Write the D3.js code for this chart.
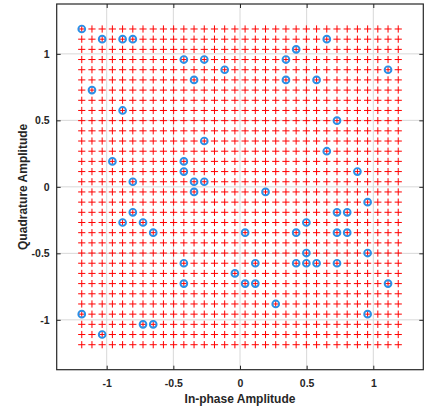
<!DOCTYPE html>
<html>
<head>
<meta charset="utf-8">
<script src="https://cdn.jsdelivr.net/npm/d3@7"></script>
<style>
  html, body { margin: 0; padding: 0; background: #fff; }
  svg { display: block; }
  text { font-family: "Liberation Sans", Arial, Helvetica, sans-serif; font-weight: bold; fill: #262626; }
</style>
</head>
<body>
<svg id="chart" width="427" height="409"></svg>
<script>
// 1024-QAM amplitude levels per rail (odd integers), normalised to unit average power
const levels = [-31, -29, -27, -25, -23, -21, -19, -17, -15, -13, -11, -9, -7, -5, -3, -1,
                1, 3, 5, 7, 9, 11, 13, 15, 17, 19, 21, 23, 25, 27, 29, 31];
const avgPower = 682;

// Received symbols (in level units)
const rxI = [-31, -27, -23, -21, 17, 11, -11, -7, 9, -3, 29, -9, 9, 15, -29, -23, 19, -7, 17, -25,
             -11, -11, 23, -21, -9, -7, -9, 5, 25, -21, 19, 21, -23, -19, 13, -17, 1, 11, 19, 21,
             13, 25, -11, 3, 11, 13, 15, 19, -1, -11, 1, 3, 29, 7, -31, 25, -19, -17, -27];
const rxQ = [31, 29, 29, 29, 29, 27, 25, 25, 25, 23, 23, 21, 21, 21, 19, 15, 13, 9, 7, 5,
             5, 3, 3, 1, 1, 1, -1, -1, -3, -5, -5, -5, -7, -7, -7, -9, -9, -9, -9, -9,
             -13, -13, -15, -15, -15, -15, -15, -15, -17, -19, -19, -19, -19, -23, -25, -25, -27, -27, -29];

const tickValues = [-1, -0.5, 0, 0.5, 1];
const tickLabels = ["-1", "-0.5", "0", "0.5", "1"];
const axisLimit = 1.375;

const norm = Math.sqrt(avgPower);

const svg = d3.select("#chart");
const W = 427, H = 409;
const margin = { left: 56.7, right: 3.7, top: 4, bottom: 39.3 };
const x = d3.scaleLinear().domain([-axisLimit, axisLimit]).range([margin.left, W - margin.right]);
const y = d3.scaleLinear().domain([-axisLimit, axisLimit]).range([H - margin.bottom, margin.top]);

// grid lines
const grid = svg.append("g");
grid.selectAll(".gx").data(tickValues).join("line")
  .attr("x1", d => x(d)).attr("x2", d => x(d))
  .attr("y1", y(-axisLimit)).attr("y2", y(axisLimit))
  .attr("stroke", "#d8d8d8").attr("stroke-width", 1);
grid.selectAll(".gy").data(tickValues).join("line")
  .attr("y1", d => y(d)).attr("y2", d => y(d))
  .attr("x1", x(-axisLimit)).attr("x2", x(axisLimit))
  .attr("stroke", "#d8d8d8").attr("stroke-width", 1);

// reference constellation
const refPoints = [];
levels.forEach(li => levels.forEach(lq => refPoints.push([li / norm, lq / norm])));
const h = 3.6;
svg.append("g").selectAll("path").data(refPoints).join("path")
  .attr("d", d => `M${x(d[0]) - h},${y(d[1])}H${x(d[0]) + h}M${x(d[0])},${y(d[1]) - h}V${y(d[1]) + h}`)
  .attr("stroke", "#ff0000").attr("stroke-width", 1).attr("fill", "none");

// received symbols
const rx = rxI.map((v, k) => [v / norm, rxQ[k] / norm]);
svg.append("g").selectAll("circle").data(rx).join("circle")
  .attr("cx", d => x(d[0])).attr("cy", d => y(d[1])).attr("r", 3.4)
  .attr("fill", "none").attr("stroke", "#2a8fe6").attr("stroke-width", 1.9);

// axes
const fmt = (d) => tickLabels[tickValues.indexOf(d)];
const axisStyle = g => {
  g.select(".domain").remove();
  g.selectAll(".tick line").attr("stroke", "#262626");
  g.selectAll(".tick text").style("font-size", "10.5px");
};
svg.append("g").attr("transform", `translate(0,${y(-axisLimit)})`)
  .call(d3.axisBottom(x).tickValues(tickValues).tickFormat(fmt).tickSizeInner(-4).tickPadding(10))
  .call(axisStyle);
svg.append("g").attr("transform", `translate(${x(-axisLimit)},0)`)
  .call(d3.axisLeft(y).tickValues(tickValues).tickFormat(fmt).tickSizeInner(-4).tickPadding(7))
  .call(axisStyle);
svg.append("g").attr("transform", `translate(0,${y(axisLimit)})`)
  .call(d3.axisTop(x).tickValues(tickValues).tickFormat("").tickSizeInner(-4))
  .call(axisStyle);
svg.append("g").attr("transform", `translate(${x(axisLimit)},0)`)
  .call(d3.axisRight(y).tickValues(tickValues).tickFormat("").tickSizeInner(-4))
  .call(axisStyle);

// frame
svg.append("rect")
  .attr("x", x(-axisLimit)).attr("y", y(axisLimit))
  .attr("width", x(axisLimit) - x(-axisLimit)).attr("height", y(-axisLimit) - y(axisLimit))
  .attr("fill", "none").attr("stroke", "#262626").attr("stroke-width", 1.2);

// axis titles
svg.append("text")
  .attr("x", (x(-axisLimit) + x(axisLimit)) / 2).attr("y", 403)
  .attr("text-anchor", "middle").style("font-size", "12px")
  .text("In-phase Amplitude");
svg.append("text")
  .attr("transform", `translate(27,${(y(-axisLimit) + y(axisLimit)) / 2}) rotate(-90)`)
  .attr("text-anchor", "middle").style("font-size", "12px")
  .text("Quadrature Amplitude");
</script>
</body>
</html>
